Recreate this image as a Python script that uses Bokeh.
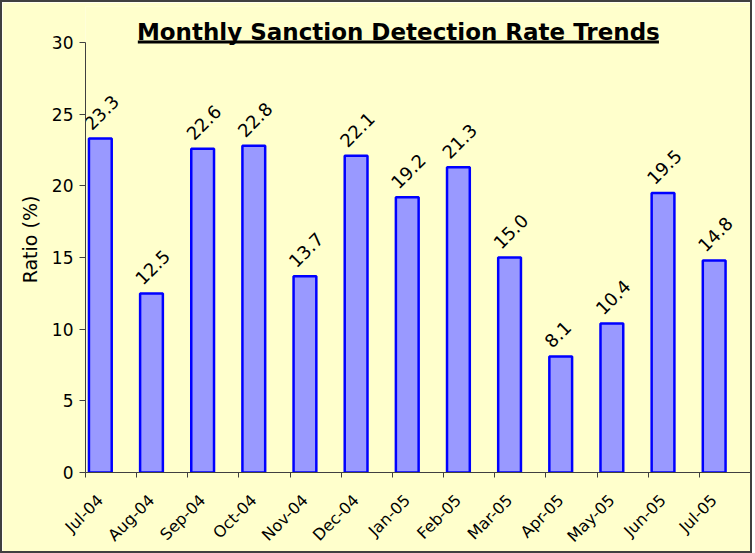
import math
from bokeh.plotting import figure
from bokeh.models import Range1d, FixedTicker, ColumnDataSource
from bokeh.core.properties import value
from bokeh.embed import file_html
from bokeh.resources import INLINE

months = ["Jul-04", "Aug-04", "Sep-04", "Oct-04", "Nov-04", "Dec-04", "Jan-05",
          "Feb-05", "Mar-05", "Apr-05", "May-05", "Jun-05", "Jul-05"]
ratios = [23.3, 12.5, 22.6, 22.8, 13.7, 22.1, 19.2, 21.3, 15.0, 8.1, 10.4, 19.5, 14.8]
y_ticks = [0, 5, 10, 15, 20, 25, 30]
title_text = "Monthly Sanction Detection Rate Trends"

FONT = "DejaVu Sans"
BG = "#FFFFCC"
OFF = 0.29  # bar centre offset from category's left boundary

xs = list(range(len(months)))
src = ColumnDataSource(dict(x=xs, y=ratios, lab=[f"{v:.1f}" for v in ratios]))

p = figure(width=748, height=549, output_backend="svg", toolbar_location=None,
           x_range=Range1d(-OFF, len(months) - OFF), y_range=Range1d(0, 32.52),
           min_border_left=83, min_border_right=4, min_border_top=4, min_border_bottom=83)
p.background_fill_color = BG
p.border_fill_color = BG
p.outline_line_color = None
p.styles = {"border": "2px solid #404040", "box-sizing": "content-box"}
p.xgrid.visible = False
p.ygrid.visible = False

p.vbar(x="x", top="y", width=0.445, source=src, fill_color="#9999FF",
       line_color="#0000FF", line_width=2.5)

p.text(x="x", y="y", text="lab", source=src, angle=math.pi / 4,
       text_align="left", text_baseline="alphabetic", x_offset=-13, y_offset=-12,
       text_font=value(FONT), text_font_size="18px", text_color="black")

# title with underline
p.text(x=[5.826], y=[30.77], text=[title_text], text_align="center", text_baseline="middle",
       text_font=value(FONT), text_font_size="23px", text_font_style="bold", text_color="black")
p.segment(x0=[0.733], x1=[10.92], y0=[30.05], y1=[30.05], line_color="black", line_width=3)

xa = p.xaxis[0]
xa.ticker = FixedTicker(ticks=xs, minor_ticks=[i - OFF for i in range(len(months) + 1)])
xa.major_label_overrides = {i: m for i, m in enumerate(months)}
xa.major_label_orientation = math.pi / 4
xa.major_tick_out = 0
xa.major_tick_in = 0
xa.minor_tick_out = 5
xa.minor_tick_in = 0
xa.minor_tick_line_color = "#404040"
xa.axis_line_color = "#404040"
xa.major_label_text_font = FONT
xa.major_label_text_font_size = "16px"
xa.major_label_text_color = "black"
xa.major_label_standoff = 20

ya = p.yaxis[0]
ya.ticker = FixedTicker(ticks=y_ticks)
ya.bounds = (0, 30)
ya.major_tick_out = 6
ya.major_tick_in = 0
ya.minor_tick_out = 0
ya.minor_tick_in = 0
ya.major_tick_line_color = "#404040"
ya.axis_line_color = "#404040"
ya.major_label_text_font = FONT
ya.major_label_text_font_size = "17px"
ya.major_label_text_color = "black"
ya.major_label_standoff = 6
ya.axis_label = "Ratio (%)"
ya.axis_label_text_font = FONT
ya.axis_label_text_font_size = "19px"
ya.axis_label_text_font_style = "normal"
ya.axis_label_text_color = "black"
ya.axis_label_standoff = 8

open("out.html", "w").write(file_html(p, INLINE))
